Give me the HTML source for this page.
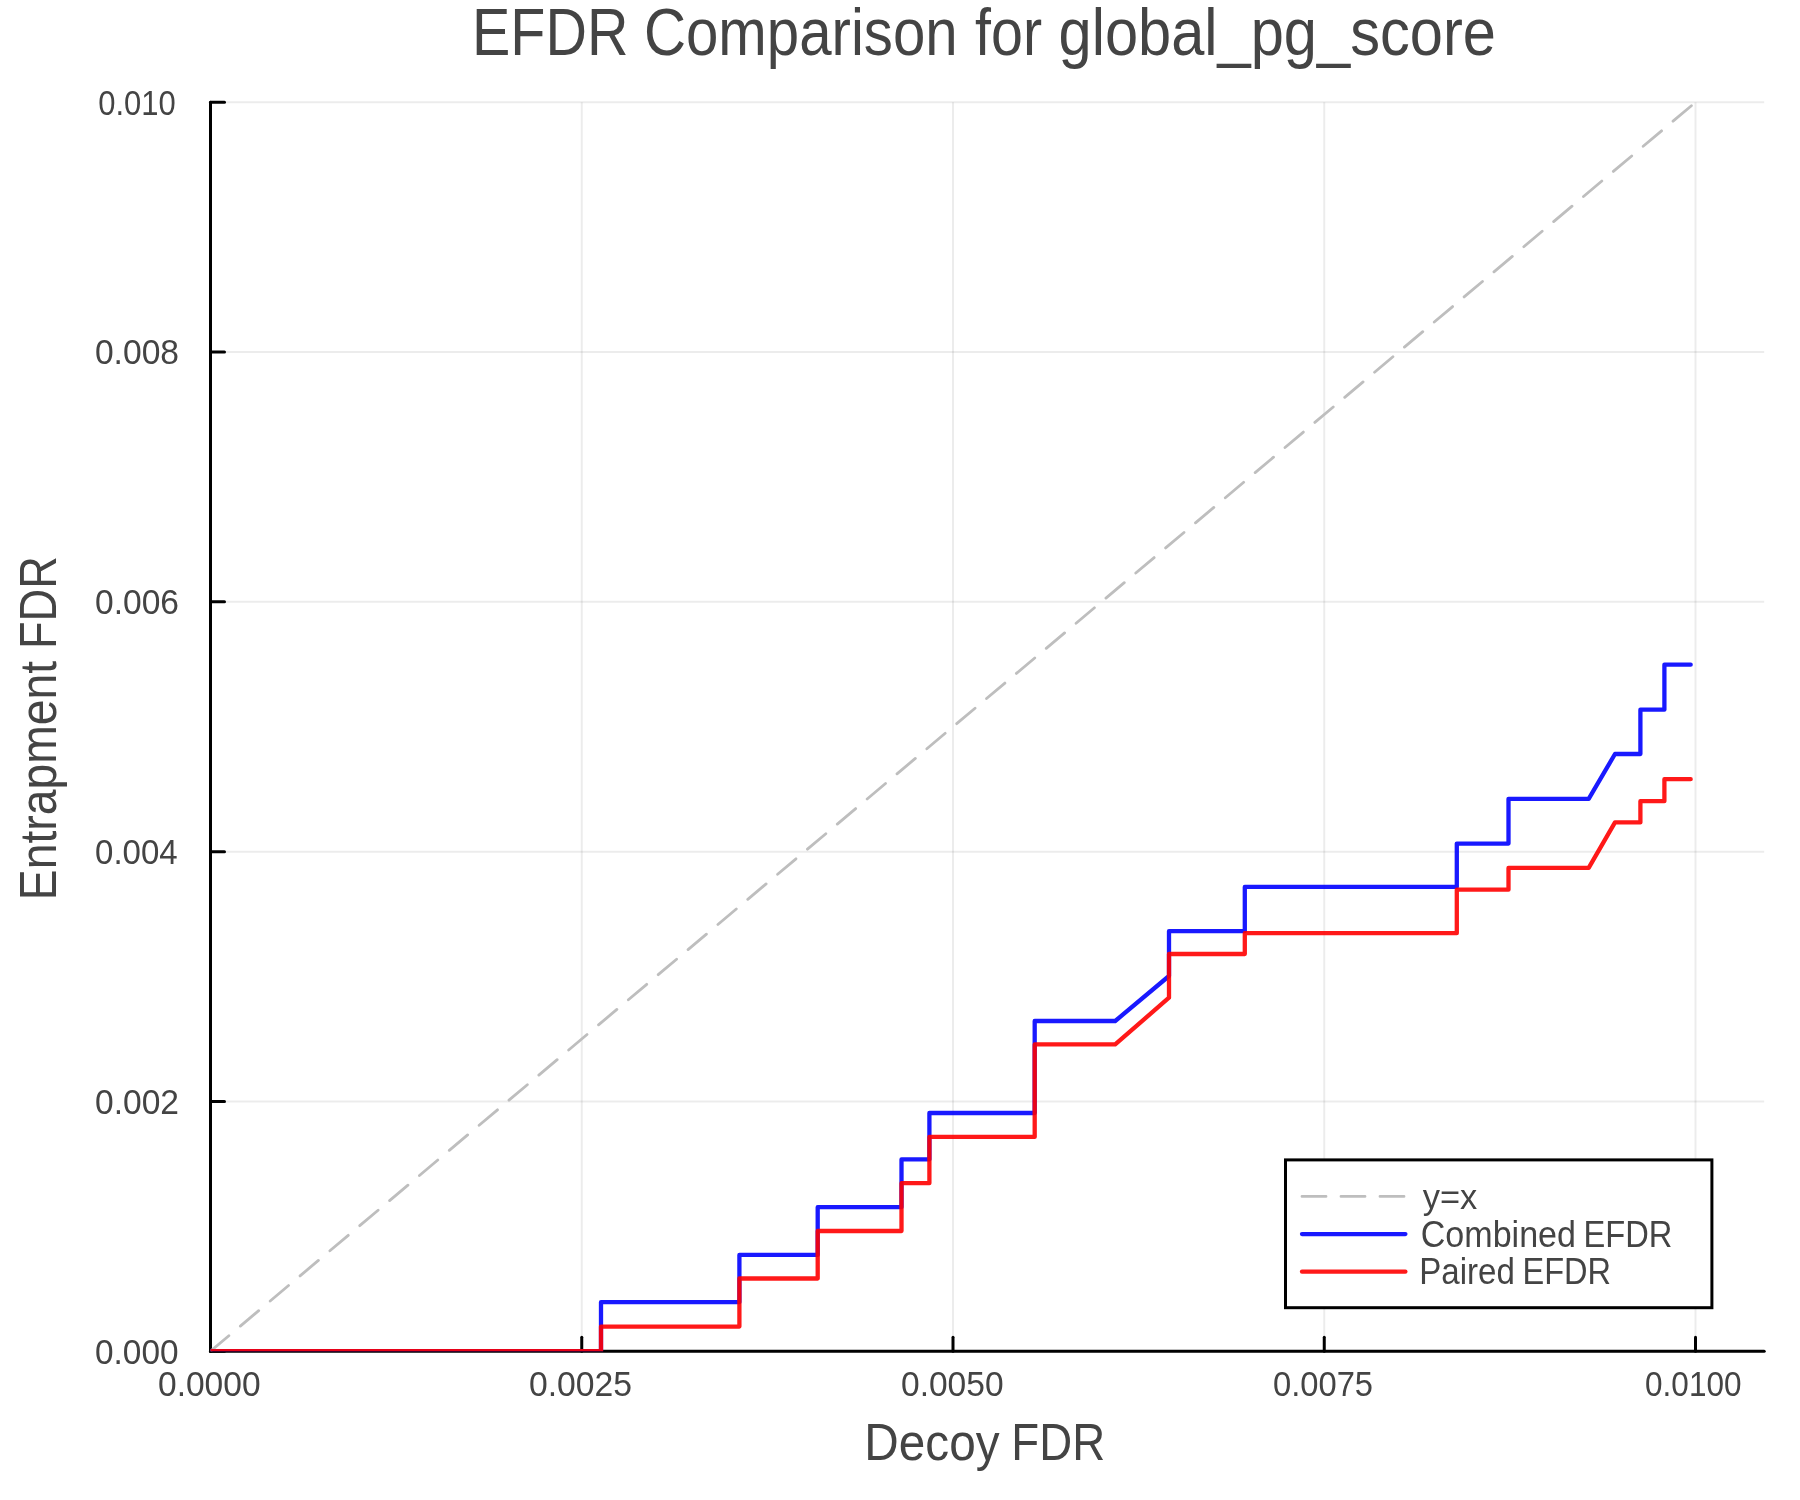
<!DOCTYPE html>
<html><head><meta charset="utf-8"><title>EFDR Comparison for global_pg_score</title>
<style>
html,body{margin:0;padding:0;background:#fff;overflow:hidden;}
svg{display:block;}
text{font-family:"Liberation Sans", sans-serif;fill:#444444;}
.t{opacity:0.999;will-change:transform;}
</style></head><body>
<svg width="1800" height="1500" viewBox="0 0 1800 1500">
<rect x="0" y="0" width="1800" height="1500" fill="#ffffff"/>
<defs><clipPath id="pa"><rect x="210.5" y="99.3" width="1556.7" height="1251.9"/></clipPath></defs>
<g stroke="#000" stroke-opacity="0.075" stroke-width="2"><line x1="210.50" y1="102.30" x2="210.50" y2="1351.20"/><line x1="581.75" y1="102.30" x2="581.75" y2="1351.20"/><line x1="953.00" y1="102.30" x2="953.00" y2="1351.20"/><line x1="1324.25" y1="102.30" x2="1324.25" y2="1351.20"/><line x1="1695.50" y1="102.30" x2="1695.50" y2="1351.20"/><line x1="210.50" y1="1351.20" x2="1764.20" y2="1351.20"/><line x1="210.50" y1="1101.42" x2="1764.20" y2="1101.42"/><line x1="210.50" y1="851.64" x2="1764.20" y2="851.64"/><line x1="210.50" y1="601.86" x2="1764.20" y2="601.86"/><line x1="210.50" y1="352.08" x2="1764.20" y2="352.08"/><line x1="210.50" y1="102.30" x2="1764.20" y2="102.30"/></g>
<g stroke="#000" stroke-width="3" stroke-linecap="round" fill="none"><line x1="210.5" y1="102.3" x2="210.5" y2="1351.3"/><line x1="210.5" y1="1351.3" x2="1764.2" y2="1351.3"/><line x1="210.50" y1="1351.3" x2="210.50" y2="1337.3"/><line x1="581.75" y1="1351.3" x2="581.75" y2="1337.3"/><line x1="953.00" y1="1351.3" x2="953.00" y2="1337.3"/><line x1="1324.25" y1="1351.3" x2="1324.25" y2="1337.3"/><line x1="1695.50" y1="1351.3" x2="1695.50" y2="1337.3"/><line x1="210.5" y1="1351.20" x2="224.5" y2="1351.20"/><line x1="210.5" y1="1101.42" x2="224.5" y2="1101.42"/><line x1="210.5" y1="851.64" x2="224.5" y2="851.64"/><line x1="210.5" y1="601.86" x2="224.5" y2="601.86"/><line x1="210.5" y1="352.08" x2="224.5" y2="352.08"/><line x1="210.5" y1="102.30" x2="224.5" y2="102.30"/></g>
<g clip-path="url(#pa)" fill="none" stroke-linejoin="round" stroke-linecap="round"><line x1="210.5" y1="1351.2" x2="1695.5" y2="102.3" stroke="#bebebe" stroke-width="2.8" stroke-dasharray="24 15"/><polyline points="210.5,1351.2 601,1351.2 601,1302.2 739.4,1302.2 739.4,1254.9 817.7,1254.9 817.7,1207.2 901.5,1207.2 901.5,1159.4 929.4,1159.4 929.4,1113 1034.7,1113 1034.7,1021 1115.2,1021 1169,976 1169,931.2 1244.8,931.2 1244.8,886.9 1456.8,886.9 1456.8,843.6 1508.5,843.6 1508.5,798.8 1588.7,798.8 1615,754 1640.4,754 1640.4,709.7 1664.4,709.7 1664.4,664.7 1690.7,664.7" stroke="#0000ff" stroke-opacity="0.9" stroke-width="4.3"/><polyline points="210.5,1351.2 601,1351.2 601,1326.6 739.4,1326.6 739.4,1278.5 817.7,1278.5 817.7,1231 901.5,1231 901.5,1183.2 929.4,1183.2 929.4,1136.9 1034.7,1136.9 1034.7,1044.4 1115.2,1044.4 1169,997.7 1169,954 1244.8,954 1244.8,933.2 1456.8,933.2 1456.8,889.7 1508.5,889.7 1508.5,867.9 1588.7,867.9 1615,822.4 1640.4,822.4 1640.4,801.2 1664.4,801.2 1664.4,779.2 1690.7,779.2" stroke="#ff0000" stroke-opacity="0.9" stroke-width="4.3"/></g>
<g class="t"><text transform="translate(157.99,1396.36) scale(0.9617,1)" font-size="34.89">0.0000</text><text transform="translate(528.98,1396.36) scale(0.9665,1)" font-size="34.89">0.0025</text><text transform="translate(900.99,1396.36) scale(0.9617,1)" font-size="34.89">0.0050</text><text transform="translate(1273.02,1396.36) scale(0.9376,1)" font-size="34.89">0.0075</text><text transform="translate(1645.07,1396.36) scale(0.9040,1)" font-size="34.89">0.0100</text>
<text transform="translate(94.99,1363.66) scale(0.9500,1)" font-size="35.17">0.000</text><text transform="translate(94.99,1113.56) scale(0.9544,1)" font-size="35.17">0.002</text><text transform="translate(95.01,863.56) scale(0.9392,1)" font-size="35.17">0.004</text><text transform="translate(94.99,613.56) scale(0.9555,1)" font-size="35.17">0.006</text><text transform="translate(94.89,363.86) scale(0.9564,1)" font-size="35.17">0.008</text><text transform="translate(98.19,114.55) scale(0.8773,1)" font-size="35.31">0.010</text>
<text transform="translate(471.98,54.70) scale(0.8667,1)" font-size="66.32">EFDR</text><text transform="translate(643.94,54.70) scale(0.8777,1)" font-size="66.32">Comparison</text><text transform="translate(975.09,54.70) scale(0.8652,1)" font-size="66.32">for</text><text transform="translate(1058.50,54.70) scale(0.8988,1)" font-size="66.32">global_pg_score</text>
<text transform="translate(864.28,1459.80) scale(0.9200,1)" font-size="51.89">Decoy</text><text transform="translate(1011.36,1459.80) scale(0.8792,1)" font-size="51.89">FDR</text>
<text transform="translate(55.80,900.20) rotate(-90) scale(0.8944,1)" font-size="51.74">Entrapment</text><text transform="translate(55.80,649.01) rotate(-90) scale(0.8736,1)" font-size="51.74">FDR</text>
</g><rect x="1285.5" y="1159.9" width="426.4" height="147.8" fill="#fff" stroke="#000" stroke-width="3"/><line x1="1302" y1="1196.4" x2="1405.4" y2="1196.4" stroke="#bebebe" stroke-width="2.8" stroke-linecap="round" stroke-dasharray="24 15"/><line x1="1302" y1="1234.1" x2="1405.4" y2="1234.1" stroke="#0000ff" stroke-opacity="0.9" stroke-width="4.3" stroke-linecap="round"/><line x1="1302" y1="1271.7" x2="1405.4" y2="1271.7" stroke="#ff0000" stroke-opacity="0.9" stroke-width="4.3" stroke-linecap="round"/><g class="t"><text transform="translate(1422.72,1208.80) scale(0.9678,1)" font-size="35.59">y=x</text><text transform="translate(1420.77,1246.80) scale(0.9158,1)" font-size="37.21">Combined</text><text transform="translate(1583.42,1246.80) scale(0.8776,1)" font-size="37.21">EFDR</text><text transform="translate(1419.29,1284.00) scale(0.8756,1)" font-size="37.79">Paired</text><text transform="translate(1522.53,1284.00) scale(0.8611,1)" font-size="37.79">EFDR</text></g>
</svg>
</body></html>
